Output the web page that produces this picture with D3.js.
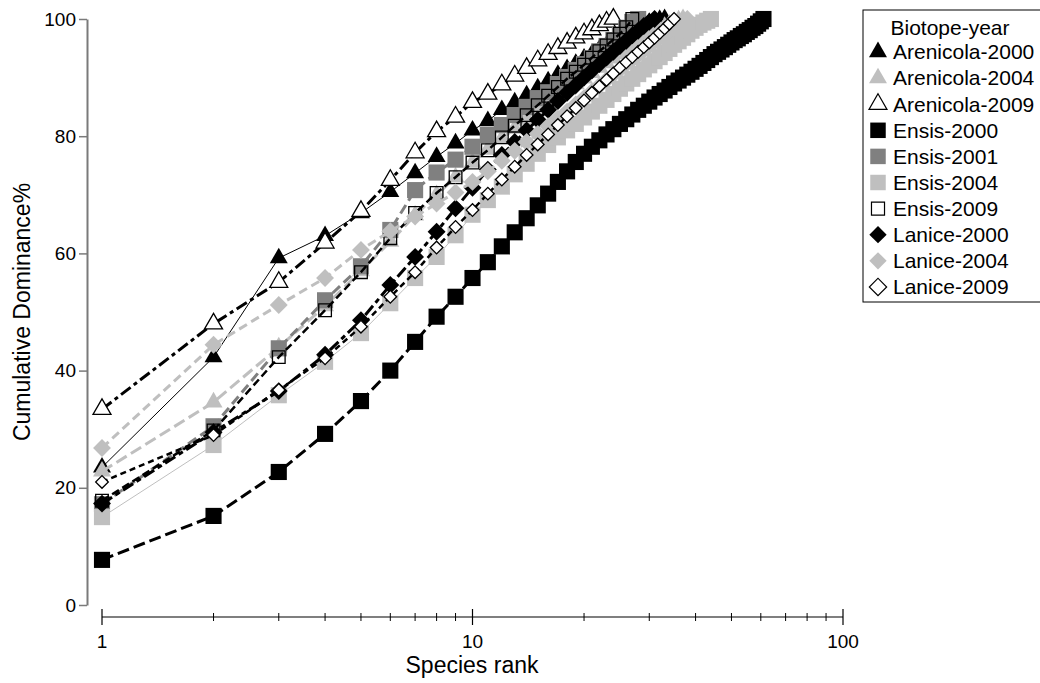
<!DOCTYPE html>
<html>
<head>
<meta charset="utf-8">
<script src="https://cdn.jsdelivr.net/npm/d3@7"></script>
<style>
  body { margin: 0; background: #fff; }
  text { font-family: "Liberation Sans", Arial, sans-serif; }
</style>
</head>
<body>
<div id="chart"></div>
<script>
// series names (legend order = draw order)
var names = ['Arenicola-2000', 'Arenicola-2004', 'Arenicola-2009', 'Ensis-2000', 'Ensis-2001',
  'Ensis-2004', 'Ensis-2009', 'Lanice-2000', 'Lanice-2004', 'Lanice-2009'];

// cumulative dominance (%) by species rank 1..n
var arenicola2000 = [23.5, 42.3, 59.2, 63, 66.9, 70.5, 73.7, 76.5, 78.8, 81, 82.6, 84.5, 85.8, 87, 88.2, 89.4,
  90.5, 91.5, 92.4, 93.3, 94, 94.8, 95.5, 96.2, 96.8, 97.4, 98, 98.5, 99, 99.4, 99.7, 99.9, 100];
var arenicola2004 = [22.8, 34.6, 44, 51, 57, 62, 66.5, 70, 73, 75.5, 77.7, 79.6, 81.3, 82.9, 84.3, 85.6,
  86.8, 87.9, 88.9, 89.9, 90.8, 91.7, 92.5, 93.3, 94, 94.7, 95.4, 96, 96.6, 97.2, 97.7, 98.2, 98.7, 99.1,
  99.5, 99.8, 100];
var arenicola2009 = [33.4, 48, 55.1, 61.8, 67.2, 72.5, 77.2, 80.8, 83.3, 85.8, 87.2, 88.8, 90.3, 91.6,
  92.9, 94, 95, 95.9, 96.8, 97.5, 98.2, 98.9, 99.5, 100];
var ensis2000 = [7.7, 15.2, 22.7, 29.2, 34.8, 40, 44.9, 49.2, 52.6, 55.8, 58.5, 61.2, 63.6, 66, 68.2, 70.2,
  72.2, 74, 75.6, 77, 78.2, 79.3, 80.3, 81.2, 82.1, 82.9, 83.7, 84.5, 85.2, 85.9, 86.6, 87.2, 87.8, 88.4,
  89, 89.5, 90, 90.5, 91, 91.5, 92, 92.5, 93, 93.5, 94, 94.4, 94.8, 95.2, 95.6, 96, 96.4,
  96.7, 97.1, 97.4, 97.8, 98.1, 98.5, 98.8, 99.2, 99.6, 100];
var ensis2001 = [17.2, 30.5, 43.8, 52, 57.8, 64, 70.8, 73.8, 76, 78.2, 80.2, 81.9, 83.6, 85, 86.5, 87.5,
  88.9, 90.1, 91.3, 92.3, 93.3, 94.5, 95.4, 96.4, 97.3, 98.5, 99.5, 100];
var ensis2004 = [15, 27.3, 35.8, 41.5, 46.4, 51.5, 55.8, 59.4, 63.1, 66.6, 69.1, 71.4, 73.5, 75.3, 77,
  78.5, 79.8, 81, 82.1, 83.2, 84.2, 85.2, 86.2, 87.2, 88.1, 89, 89.8, 90.6, 91.4, 92.1, 92.8, 93.5, 94.2,
  94.9, 95.6, 96.2, 96.8, 97.4, 98, 98.5, 99, 99.4, 99.7, 100];
var ensis2009 = [17.8, 29.8, 42.3, 50.3, 56.8, 62.6, 66.9, 70.3, 73, 75.5, 77.6, 79.8, 81.8, 83.6, 85.3,
  86.9, 88.4, 89.8, 91, 92.2, 93.4, 94.5, 95.5, 96.5, 97.5, 98.6, 100];
var lanice2000 = [17.3, 29.5, 36.5, 42.7, 48.6, 54.6, 59.4, 63.7, 67.7, 71.2, 74.3, 76.8, 79, 81, 82.8,
  84.5, 86, 87.4, 88.7, 90, 91.2, 92.3, 93.4, 94.4, 95.4, 96.3, 97.2, 98, 98.8, 99.5, 100];
var lanice2004 = [26.8, 44.4, 51.2, 55.8, 60.6, 63.8, 66.3, 68.5, 70.4, 72.2, 74, 75.8, 77.5, 79, 80.4,
  81.7, 83, 84.2, 85.4, 86.5, 87.6, 88.6, 89.6, 90.5, 91.4, 92.3, 93.1, 93.9, 94.7, 95.4, 96.1, 96.8,
  97.4, 98, 98.6, 99.1, 99.6, 100];
var lanice2009 = [21, 29, 36.7, 42.1, 47.5, 52.6, 56.8, 61, 64.5, 67.4, 70.2, 72.6, 74.8, 76.8, 78.6, 80.3,
  81.9, 83.4, 84.8, 86.1, 87.4, 88.5, 89.6, 90.7, 91.7, 92.6, 93.5, 94.4, 95.2, 96, 96.8, 97.6, 98.4,
  99.2, 100];

var seriesValues = [arenicola2000, arenicola2004, arenicola2009, ensis2000, ensis2001,
  ensis2004, ensis2009, lanice2000, lanice2004, lanice2009];

var yTicks = [0, 20, 40, 60, 80, 100];
var xMajor = [1, 10, 100];
var xMinor = [2, 3, 4, 5, 6, 7, 8, 9, 20, 30, 40, 50, 60, 70, 80, 90];

// styles per series
var black = '#000', mid = '#808080', light = '#bfbfbf';
var styles = [
  {shape: 'tri', fill: black, stroke: 'none', line: black, width: 1, dash: null},
  {shape: 'tri', fill: light, stroke: 'none', line: light, width: 3, dash: '12,5'},
  {shape: 'tri', fill: '#fff', stroke: black, line: black, width: 3, dash: '12,4,4,4'},
  {shape: 'sq', fill: black, stroke: 'none', line: black, width: 3, dash: '12,5'},
  {shape: 'sq', fill: mid, stroke: 'none', line: mid, width: 3, dash: '10,5'},
  {shape: 'sq', fill: light, stroke: 'none', line: light, width: 1, dash: null},
  {shape: 'sq', fill: 'none', stroke: black, line: black, width: 2.5, dash: '8,4'},
  {shape: 'dia', fill: black, stroke: 'none', line: black, width: 3, dash: '12,4,5,4'},
  {shape: 'dia', fill: light, stroke: 'none', line: light, width: 3, dash: '9,5'},
  {shape: 'dia', fill: '#fff', stroke: black, line: black, width: 2.5, dash: '6,4'}
];

var width = 1040, height = 683;
var svg = d3.select('#chart').append('svg')
    .attr('width', width)
    .attr('height', height);

var x = d3.scaleLog().domain([1, 100]).range([102, 843]);
var y = d3.scaleLinear().domain([0, 100]).range([605, 19]);

// y axis (grey)
var axisY = d3.axisLeft(y).tickValues(yTicks).tickSize(8).tickSizeOuter(0).tickPadding(3);
var gy = svg.append('g')
    .attr('transform', 'translate(87,0)')
    .call(axisY);
gy.select('.domain').attr('stroke', '#7a7a7a').attr('stroke-width', 2);
gy.selectAll('.tick line').attr('stroke', '#7a7a7a').attr('stroke-width', 1.5);
gy.selectAll('.tick text').attr('font-size', 19).attr('fill', '#000')
    .attr('font-family', '"Liberation Sans", Arial, sans-serif');

// x axis (log, black, ticks crossing the line)
var axisY0 = 617;
var gx = svg.append('g').attr('transform', 'translate(0,' + axisY0 + ')');
gx.append('line').attr('x1', x(1)).attr('x2', x(100)).attr('stroke', black).attr('stroke-width', 1.2);
gx.selectAll('.minor').data(xMinor).enter().append('line')
    .attr('x1', function(d) { return x(d); })
    .attr('x2', function(d) { return x(d); })
    .attr('y1', -4).attr('y2', 4)
    .attr('stroke', black).attr('stroke-width', 1);
gx.selectAll('.major').data(xMajor).enter().append('line')
    .attr('x1', function(d) { return x(d); })
    .attr('x2', function(d) { return x(d); })
    .attr('y1', -8).attr('y2', 8)
    .attr('stroke', black).attr('stroke-width', 1.2);
gx.selectAll('.lab').data(xMajor).enter().append('text')
    .attr('x', function(d) { return x(d); })
    .attr('y', 31)
    .attr('text-anchor', 'middle')
    .attr('font-size', 19)
    .text(function(d) { return d; });

// axis titles, centred on their axes
svg.append('text')
    .attr('x', 472).attr('y', 673)
    .attr('text-anchor', 'middle')
    .attr('font-size', 23)
    .text('Species rank');
svg.append('text')
    .attr('transform', 'translate(30,312) rotate(-90)')
    .attr('text-anchor', 'middle')
    .attr('font-size', 23)
    .text('Cumulative Dominance%');

function markerSize(i) {
  // open markers are drawn a bit smaller than filled ones
  var s = styles[i];
  if (s.shape === 'sq') return s.fill === 'none' ? 160 : 260;
  if (s.shape === 'dia') return s.fill === '#fff' ? 80 : 160;
  return 140;
}

var line = d3.line()
    .x(function(d, i) { return x(i + 1); })
    .y(function(d) { return y(d); });

var plot = svg.append('g');
seriesValues.forEach(function(vals, si) {
  var s = styles[si];
  var g = plot.append('g').attr('class', 'series');
  g.append('path')
      .datum(vals)
      .attr('d', line)
      .attr('fill', 'none')
      .attr('stroke', s.line)
      .attr('stroke-width', s.width)
      .attr('stroke-dasharray', s.dash);
  var sym = s.shape === 'tri' ? d3.symbolTriangle : d3.symbolSquare;
  g.selectAll('path.pt')
      .data(vals)
      .enter()
      .append('path')
      .attr('class', 'pt')
      .attr('d', d3.symbol().type(sym).size(markerSize(si)))
      .attr('transform', function(d, i) {
        return 'translate(' + x(i + 1) + ',' + y(d) + ')' + (s.shape === 'dia' ? ' rotate(45)' : '');
      })
      .attr('fill', s.fill)
      .attr('stroke', s.stroke)
      .attr('stroke-width', 1.3);
});

// legend
var lg = svg.append('g').attr('transform', 'translate(863,10)');
lg.append('rect')
    .attr('x', 0).attr('y', 0)
    .attr('width', 200).attr('height', 292)
    .attr('fill', '#fff')
    .attr('stroke', black)
    .attr('stroke-width', 1);
lg.append('text')
    .attr('x', 87).attr('y', 25)
    .attr('text-anchor', 'middle')
    .attr('font-size', 21)
    .text('Biotope-year');
var items = lg.selectAll('.item').data(names).enter().append('g')
    .attr('transform', function(d, i) { return 'translate(0,' + (42 + i * 26.1) + ')'; });
items.append('path')
    .attr('d', function(d, i) {
      var s = styles[i];
      if (s.shape === 'tri') return d3.symbol().type(d3.symbolTriangle).size(140)();
      if (s.shape === 'sq') return d3.symbol().type(d3.symbolSquare).size(s.fill === 'none' ? 170 : 240)();
      return d3.symbol().type(d3.symbolSquare).size(150)();
    })
    .attr('transform', function(d, i) {
      return 'translate(15,0)' + (styles[i].shape === 'dia' ? ' rotate(45)' : '');
    })
    .attr('fill', function(d, i) { return styles[i].fill; })
    .attr('stroke', function(d, i) { return styles[i].stroke; })
    .attr('stroke-width', 1.2);
items.append('text')
    .attr('x', 30).attr('y', 0)
    .attr('dy', '0.35em')
    .attr('font-size', 21)
    .text(function(d) { return d; });
</script>
</body>
</html>
